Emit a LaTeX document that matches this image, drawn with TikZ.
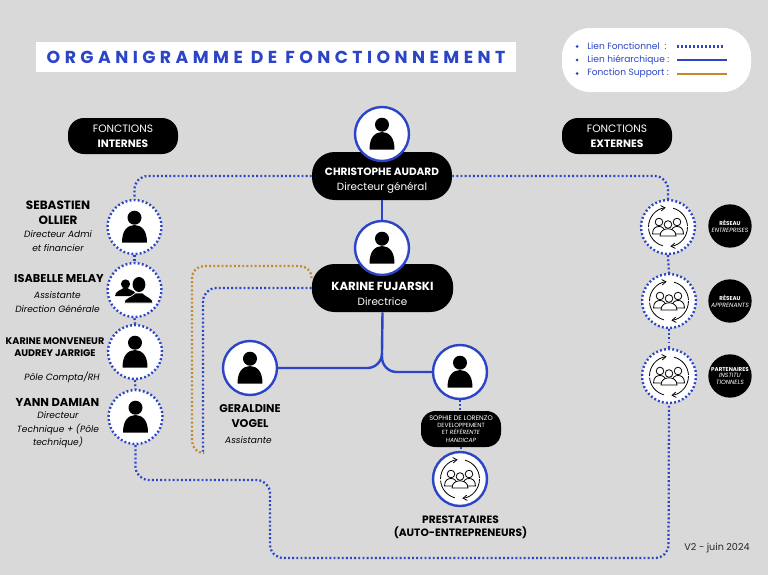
\documentclass[tikz,border=0pt]{standalone}
\usepackage{fontspec}
\setmainfont{Poppins}
\newfontfamily\titlefont[LetterSpace=25.5]{Poppins}
\usetikzlibrary{arrows.meta,calc}
\definecolor{bgc}{HTML}{D9D9D9}
\definecolor{bluec}{HTML}{2B45C6}
\definecolor{orc}{HTML}{C08A2C}
\newcommand{\tinyl}{\fontsize{4.5pt}{5.4pt}\selectfont}
\newcommand{\upstrut}[1]{\rule{0pt}{#1}}
\tikzset{
  x=0.75pt,y=-0.75pt,
  hier/.style={draw=bluec,line width=1.8pt,rounded corners=11pt},
  func/.style={draw=bluec,line width=1.7pt,dash pattern=on 1.4pt off 1.7pt,rounded corners=10pt},
  supp/.style={draw=orc,line width=1.7pt,dash pattern=on 1.4pt off 1.7pt,rounded corners=9pt},
  ringh/.style={circle,fill=white,draw=bluec,line width=1.8pt,minimum size=40.5pt,inner sep=0pt},
  ringf/.style={circle,fill=white,draw=bluec,line width=1.8pt,dash pattern=on 1.4pt off 1.7pt,minimum size=40.5pt,inner sep=0pt},
  pill/.style={fill=black,text=white,rounded corners=17pt,inner sep=0pt,align=center},
  blk/.style={circle,fill=black,text=white,minimum size=32.5pt,inner sep=0pt,align=center,font=\fontsize{4.2pt}{5.2pt}\selectfont},
  nm/.style={align=center,inner sep=0pt,font=\fontsize{8.4pt}{11.3pt}\selectfont\bfseries,text=black},
  rl/.style={align=center,inner sep=0pt,font=\fontsize{6.8pt}{10.2pt}\selectfont\itshape,text=black},
  leg/.style={anchor=west,inner sep=0pt,text=bluec,font=\fontsize{6.8pt}{8pt}\selectfont},
  person/.pic={
    \fill[black] (0,-9.3) circle[radius=7];
    \fill[black] (-12.3,15.7) .. controls (-13,4) and (-7,-2) .. (0,-2) .. controls (7,-2) and (13,4) .. (12.3,15.7) -- cycle;
  },
  duo/.pic={
    \fill[black] (-9,-6) circle[radius=4.6];
    \fill[black] (-19.5,6) .. controls (-19.5,1) and (-13,0) .. (-11,-2) -- (-7,-2) .. controls (-5,0) and (-1,0) .. (1,3) -- (-3,6) -- cycle;
    \fill[black] (4.5,-5.5) ellipse[x radius=6.4,y radius=7.5];
    \filldraw[draw=white,line width=0.5pt,fill=black] (-10.5,13) .. controls (-10.5,8) and (-3,7) .. (1,3) -- (8,3) .. controls (12,7) and (18.5,8) .. (18.5,13) -- cycle;
  },
  groupi/.pic={
    \draw[black,line width=0.6pt,-{Straight Barb[length=3pt,width=4pt]}] (-180:19.5) arc[start angle=-180,end angle=-97,radius=19.5];
    \draw[black,line width=0.6pt,-{Straight Barb[length=3pt,width=4pt]}] (0:19.5) arc[start angle=0,end angle=83,radius=19.5];
    \draw[black,line width=0.6pt] (-75:19.5) arc[start angle=-75,end angle=-3,radius=19.5];
    \draw[black,line width=0.6pt] (175:19.5) arc[start angle=175,end angle=105,radius=19.5];
    \begin{scope}[draw=black,fill=white,line width=0.6pt]
      \filldraw (-9,-5) circle[radius=3.8];
      \filldraw (9,-5) circle[radius=3.8];
      \filldraw (-15.5,7) .. controls (-15.5,1) and (-12,-0.5) .. (-9,-0.5) .. controls (-6,-0.5) and (-3,1) .. (-3,7) -- cycle;
      \filldraw (15.5,7) .. controls (15.5,1) and (12,-0.5) .. (9,-0.5) .. controls (6,-0.5) and (3,1) .. (3,7) -- cycle;
      \filldraw (0,-2.5) circle[radius=3.8];
      \filldraw (-8,9) .. controls (-8,4) and (-4,1.8) .. (0,1.8) .. controls (4,1.8) and (8,4) .. (8,9) -- cycle;
    \end{scope}
  },
}
\begin{document}
\begin{tikzpicture}
\useasboundingbox (0,0) rectangle (768,575);
\fill[bgc] (0,0) rectangle (768,575);

% title and legend
\node[fill=white,minimum width=360pt,minimum height=22.5pt,inner sep=0pt] (title) at (276,57)
  {\fontsize{13pt}{15pt}\titlefont\bfseries\color{bluec}ORGANIGRAMME DE FONCTIONNEMENT\hspace{3pt}};
\node[fill=white,rounded corners=21pt,minimum width=141.75pt,minimum height=48pt,inner sep=0pt] (legend) at (656.5,60) {};
\fill[bluec] (577,46.5) circle[radius=1.5];
\fill[bluec] (577,60) circle[radius=1.5];
\fill[bluec] (577,73.5) circle[radius=1.5];
\node[leg] (l1) at (587,46.5) {Lien Fonctionnel\ \ :};
\node[leg] (l2) at (587,60) {Lien hiérarchique :};
\node[leg] (l3) at (587,73.5) {Fonction Support :};
\coordinate (l1a) at (677,46.5); \coordinate (l1b) at (725,46.5);
\coordinate (l2a) at (677,60); \coordinate (l2b) at (727,60);
\coordinate (l3a) at (677,74); \coordinate (l3b) at (727,74);
\draw[bluec,line width=1.6pt,dash pattern=on 1.5pt off 1.5pt] (l1a) -- (l1b);
\draw[bluec,line width=1.8pt] (l2a) -- (l2b);
\draw[orc,line width=1.8pt] (l3a) -- (l3b);

% side headers
\node[pill,minimum width=82.5pt,minimum height=27pt,rounded corners=12pt] (fi) at (123,136)
  {\fontsize{8pt}{10pt}\selectfont FONCTIONS\\[-0.8pt]\fontsize{8pt}{10pt}\selectfont\bfseries INTERNES};
\node[pill,minimum width=82.5pt,minimum height=27pt,rounded corners=12pt] (fe) at (617,136)
  {\fontsize{8pt}{10pt}\selectfont FONCTIONS\\[-0.8pt]\fontsize{8pt}{10pt}\selectfont\bfseries EXTERNES};

% node shapes
\node[pill,minimum width=105pt,minimum height=36pt] (chrisb) at (382,176)
  {\upstrut{13pt}\fontsize{7.9pt}{10pt}\selectfont\bfseries CHRISTOPHE AUDARD\\[-0.8pt]\fontsize{7.8pt}{10pt}\selectfont Directeur général};
\node[pill,minimum width=106pt,minimum height=36pt] (karb) at (382.5,288)
  {\upstrut{15pt}\fontsize{8.8pt}{10pt}\selectfont\bfseries KARINE FUJARSKI\\[-0.8pt]\fontsize{7.8pt}{10pt}\selectfont Directrice};
\node[ringh] (chris) at (382,134) {};
\node[ringh] (kar) at (382,248) {};
\node[ringh] (ger) at (250,368) {};
\node[ringh] (sop) at (460,372) {};
\node[ringh] (pre) at (460,479) {};
\node[ringf] (seb) at (134.5,227) {};
\node[ringf] (isa) at (134.5,290) {};
\node[ringf] (mon) at (135,352) {};
\node[ringf] (yan) at (135.5,417) {};
\node[ringf] (ent) at (668,227) {};
\node[ringf] (app) at (669,301) {};
\node[ringf] (par) at (669,376) {};
\node[pill,minimum width=60pt,minimum height=27pt,rounded corners=11pt,font=\fontsize{5pt}{5.4pt}\selectfont] (sopb) at (461,429)
  {SOPHIE DE LORENZO\\\tinyl DEVELOPPEMENT\\\tinyl ET \itshape RÉFÉRENTE\\\tinyl\itshape HANDICAP};
\node[blk] (bent) at (730,226) {\bfseries RÉSEAU\\\fontsize{4.6pt}{5.2pt}\selectfont\itshape ENTREPRISES};
\node[blk] (bapp) at (730,301) {\bfseries RÉSEAU\\\fontsize{4.6pt}{5.2pt}\selectfont\itshape APPRENANTS};
\node[blk] (bpar) at (730,376) {\bfseries PARTENAIRES\\\fontsize{4.6pt}{5.2pt}\selectfont\itshape INSTITU\\\fontsize{4.6pt}{5.2pt}\selectfont\itshape TIONNELS};

% connectors
\coordinate (bl1) at (135,480);
\coordinate (bl2) at (270,480);
\coordinate (bl3) at (270,558);
\coordinate (bl4) at (668.5,558);
\draw[func] (yan.south) -- (yan.south |- bl1) -- (bl2) -- (bl3) -- (bl4) -- (par.south);
\draw[func] (chrisb.west) -| (seb.north);
\draw[func] (chrisb.east) -| (ent.north);
\draw[func] (seb.south) -- (isa.north);
\draw[func] (isa.south) -- (mon.north);
\draw[func] (mon.south) -- (yan.north);
\draw[func] (ent.south) -- (app.north);
\draw[func] (app.south) -- (par.north);
\draw[func] (sop.south) -- (sop.south |- sopb.north);
\draw[func] (sopb.south) -- (sopb.south |- pre.north);
\coordinate (fb) at (203,453);
\coordinate (ob1) at (192,266);
\coordinate (ob3) at (192,453);
\draw[supp] (fb) -- (ob3) -- (ob1) -- (karb.172 |- ob1) -- (karb.172);
\draw[func] (karb.west) -| (fb);
\draw[hier] (chrisb.south) -- (kar.north);
\coordinate (fork) at (382,353);
\draw[hier] (karb.south) -- (fork);
\draw[hier] (fork) |- (ger.east);
\draw[hier] (fork) |- (sop.west);

% icons
\foreach \n in {chris,kar,ger,sop,seb,mon,yan} \path (\n) pic {person};
\path (isa) pic {duo};
\foreach \n in {pre,ent,app,par} \path (\n) pic {groupi};

% texts
\node[nm,font=\fontsize{9pt}{11.3pt}\selectfont\bfseries] (t1) at (58,213) {SEBASTIEN\\OLLIER};
\node[rl] (t2) at (58,241) {Directeur Admi\\et financier};
\node[nm,font=\fontsize{8.5pt}{11pt}\selectfont\bfseries] (t3) at (59,278.5) {ISABELLE MELAY};
\node[rl] (t4) at (57.5,302) {Assistante\\Direction Générale};
\node[nm,font=\fontsize{7.2pt}{9pt}\selectfont\bfseries] (t5) at (55,347) {KARINE MONVENEUR\\AUDREY JARRIGE};
\node[rl] (t6) at (62,377.5) {Pôle Compta/RH};
\node[nm,font=\fontsize{8.6pt}{11pt}\selectfont\bfseries] (t7) at (57.5,402) {YANN DAMIAN};
\node[rl] (t8) at (58,430) {Directeur\\Technique + (Pôle\\technique)};
\node[nm] (t9) at (250,416.5) {GERALDINE\\VOGEL};
\node[rl] (t10) at (248.5,440.5) {Assistante};
\node[nm,font=\fontsize{8pt}{10pt}\selectfont\bfseries] (t11) at (460.5,527) {PRESTATAIRES\\(AUTO-ENTREPRENEURS)};
\node[inner sep=0pt,text=black!85,font=\fontsize{7.2pt}{8pt}\selectfont] (ver) at (717,548) {V2 - juin 2024};
\end{tikzpicture}
\end{document}
